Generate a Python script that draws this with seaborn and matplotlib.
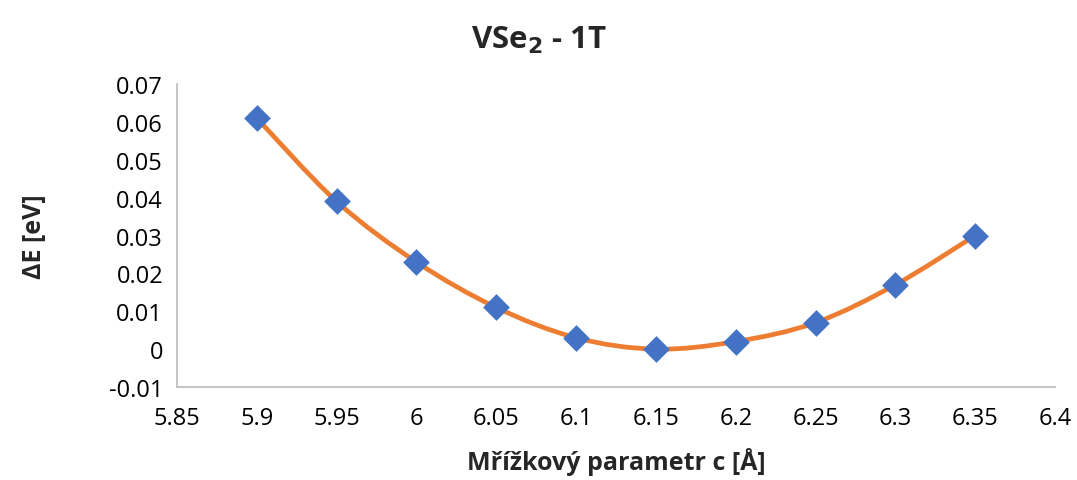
import numpy as np
import pandas as pd
import matplotlib
matplotlib.use("Agg")
import matplotlib.pyplot as plt
from matplotlib.path import Path
from matplotlib.patches import PathPatch
import seaborn as sns

# Data
c_param = [5.90, 5.95, 6.00, 6.05, 6.10, 6.15, 6.20, 6.25, 6.30, 6.35]
delta_e = [0.061, 0.039, 0.023, 0.011, 0.003, 0.000, 0.002, 0.007, 0.017, 0.030]
x_ticks = [5.85, 5.9, 5.95, 6.0, 6.05, 6.1, 6.15, 6.2, 6.25, 6.3, 6.35, 6.4]
x_tick_labels = ["5.85", "5.9", "5.95", "6", "6.05", "6.1", "6.15", "6.2", "6.25", "6.3", "6.35", "6.4"]
y_ticks = [-0.01, 0, 0.01, 0.02, 0.03, 0.04, 0.05, 0.06, 0.07]
y_tick_labels = ["-0.01", "0", "0.01", "0.02", "0.03", "0.04", "0.05", "0.06", "0.07"]

df = pd.DataFrame({"c": c_param, "dE": delta_e})

sns.set_theme(style="white")
plt.rcParams["font.family"] = ["Open Sans", "DejaVu Sans"]

fig = plt.figure(figsize=(10.77, 4.81), dpi=100)
ax = fig.add_axes([0.1643, 0.1933, 0.8153, 0.630])

LINE = "#ED7D31"
MARK = "#4472C4"

# Smoothed line (cubic Bezier through the data points, like Excel's smoothing)
xs = np.array(df["c"], dtype=float)
ys = np.array(df["dE"], dtype=float)
n = len(xs)
verts = [(xs[0], ys[0])]
codes = [Path.MOVETO]
t = 1.0 / 6.0
for i in range(n - 1):
    p0 = (xs[max(i - 1, 0)], ys[max(i - 1, 0)])
    p1 = (xs[i], ys[i])
    p2 = (xs[i + 1], ys[i + 1])
    p3 = (xs[min(i + 2, n - 1)], ys[min(i + 2, n - 1)])
    c1 = (p1[0] + (p2[0] - p0[0]) * t, p1[1] + (p2[1] - p0[1]) * t)
    c2 = (p2[0] - (p3[0] - p1[0]) * t, p2[1] - (p3[1] - p1[1]) * t)
    verts += [c1, c2, p2]
    codes += [Path.CURVE4] * 3
ax.add_patch(PathPatch(Path(verts, codes), facecolor="none", edgecolor=LINE,
                       linewidth=3.4, capstyle="round", joinstyle="round", zorder=2))

sns.scatterplot(data=df, x="c", y="dE", marker="D", s=185, color=MARK,
                edgecolor=MARK, linewidth=0, ax=ax, zorder=3)

ax.set_xlim(5.85, 6.4)
ax.set_ylim(-0.01, 0.07)
ax.set_xticks(x_ticks)
ax.set_xticklabels(x_tick_labels)
ax.set_yticks(y_ticks)
ax.set_yticklabels(y_tick_labels)

for s in ["top", "right"]:
    ax.spines[s].set_visible(False)
for s in ["left", "bottom"]:
    ax.spines[s].set_color("#BFBFBF")
    ax.spines[s].set_linewidth(1.3)

ax.tick_params(axis="both", direction="in", length=5, width=1.3, color="#BFBFBF",
               labelsize=17, labelcolor="black", pad=10)
ax.tick_params(axis="x", pad=14)

ax.set_xlabel("Mřížkový parametr c [Å]", fontsize=18, fontweight="bold", labelpad=12)
ax.set_ylabel("ΔE [eV]", fontsize=18, fontweight="bold", labelpad=44)
ax.set_title("VSe$_\\mathbf{2}$ - 1T", fontsize=22.5, fontweight="bold", pad=26, x=0.412)

fig.savefig("out.png", dpi=100)
